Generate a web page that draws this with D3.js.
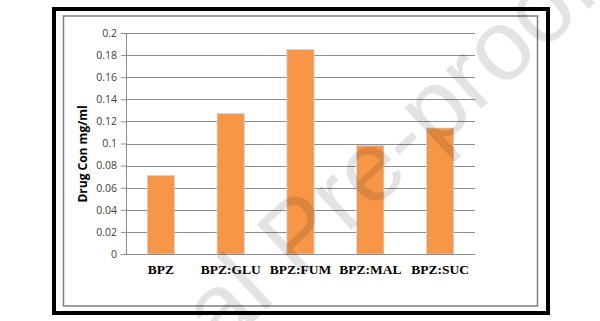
<!DOCTYPE html>
<html>
<head>
<meta charset="utf-8">
<script src="https://cdn.jsdelivr.net/npm/d3@7"></script>
<style>
  body { margin: 0; background: #fff; }
  svg { display: block; }
</style>
</head>
<body>
<div id="chart"></div>
<script>
// data
const categories = ['BPZ', 'BPZ:GLU', 'BPZ:FUM', 'BPZ:MAL', 'BPZ:SUC'];
const drugCon = [0.071, 0.127, 0.185, 0.098, 0.114];
const yTicks = [0, 0.02, 0.04, 0.06, 0.08, 0.1, 0.12, 0.14, 0.16, 0.18, 0.2];
const yTitle = 'Drug Con mg/ml';
const watermark = 'Journal Pre-proof';

const width = 600;
const height = 321;
const margin = { top: 33, right: 125, bottom: 67, left: 126 };
const innerW = width - margin.left - margin.right;
const innerH = height - margin.top - margin.bottom;

const svg = d3.select('#chart')
  .append('svg')
  .attr('width', width)
  .attr('height', height);

// frames
svg.append('rect')
  .attr('x', 54).attr('y', 9).attr('width', 494).attr('height', 304)
  .attr('fill', 'none').attr('stroke', '#000').attr('stroke-width', 4);
svg.append('rect')
  .attr('x', 63.5).attr('y', 16).attr('width', 474).attr('height', 290)
  .attr('fill', 'none').attr('stroke', '#7f7f7f').attr('stroke-width', 1.5);

const g = svg.append('g')
  .attr('transform', `translate(${margin.left},${margin.top})`);

const x = d3.scaleBand()
  .domain(categories)
  .range([0, innerW])
  .paddingInner(0.61)
  .paddingOuter(0.305);

const y = d3.scaleLinear()
  .domain([0, 0.2])
  .range([innerH, 0]);

// gridlines
g.append('g')
  .selectAll('line')
  .data(yTicks.slice(1))
  .join('line')
  .attr('x1', 0).attr('x2', innerW)
  .attr('y1', (d) => Math.round(y(d)) + 0.5)
  .attr('y2', (d) => Math.round(y(d)) + 0.5)
  .attr('stroke', '#8c8c8c')
  .attr('stroke-width', 1.2);

// y axis
const yAxis = g.append('g')
  .call(d3.axisLeft(y).tickValues(yTicks).tickSize(5).tickPadding(4)
    .tickFormat((d) => String(d)));
yAxis.select('.domain').attr('stroke', '#8c8c8c');
yAxis.selectAll('.tick line').attr('stroke', '#8c8c8c');
yAxis.selectAll('text')
  .attr('font-family', 'Open Sans, sans-serif')
  .attr('font-size', 10.5)
  .attr('fill', '#404040');

// bars
g.append('g')
  .selectAll('rect')
  .data(categories)
  .join('rect')
  .attr('x', (d) => x(d))
  .attr('y', (d, i) => y(drugCon[i]))
  .attr('width', x.bandwidth())
  .attr('height', (d, i) => innerH - y(drugCon[i]))
  .attr('fill', '#f79646')
  .attr('stroke', '#c6d4ea')
  .attr('stroke-width', 0.8);

// x axis
const xAxis = g.append('g')
  .attr('transform', `translate(0,${innerH})`)
  .call(d3.axisBottom(x).tickSize(0).tickPadding(10));
xAxis.select('.domain').attr('stroke', '#8c8c8c').attr('stroke-width', 1.2);
xAxis.selectAll('text')
  .attr('font-family', 'Liberation Serif, serif')
  .attr('font-weight', 'bold')
  .attr('font-size', 13.5)
  .attr('fill', '#000');

// y title
svg.append('text')
  .attr('transform', 'translate(87,154) rotate(-90)')
  .attr('text-anchor', 'middle')
  .attr('font-family', 'Open Sans, sans-serif')
  .attr('font-weight', 'bold')
  .attr('font-size', 12)
  .attr('fill', '#000')
  .text(yTitle);

// watermark (mostly off the page, as in the source)
svg.append('text')
  .attr('transform', 'translate(302,240) rotate(-43)')
  .attr('text-anchor', 'middle')
  .attr('dominant-baseline', 'middle')
  .attr('font-family', 'Liberation Sans, sans-serif')
  .attr('font-size', 100)
  .attr('fill', '#000')
  .attr('fill-opacity', 0.11)
  .text(watermark);
</script>
</body>
</html>
